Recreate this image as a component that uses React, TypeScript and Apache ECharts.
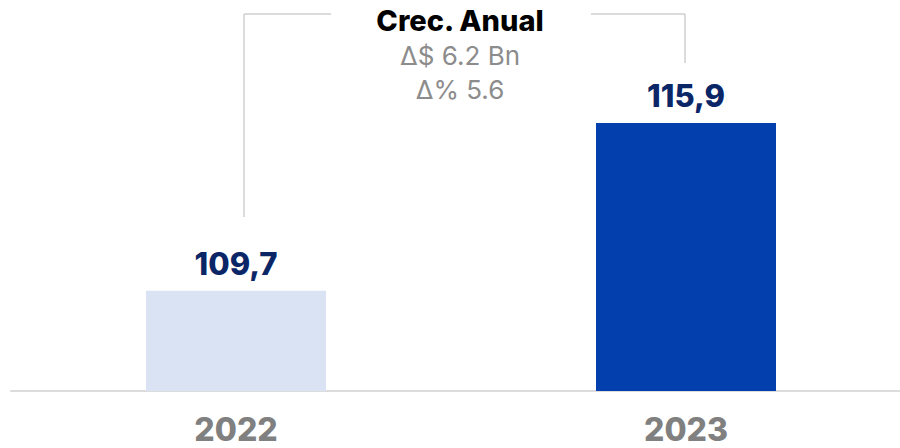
import React, { useEffect, useRef } from "react";
import * as echarts from "echarts";

const categories = ["2022", "2023"];
const values = [109.7, 115.9];
const valueLabels = ["109,7", "115,9"];
const barColors = ["#dae3f3", "#0340ad"];
const titleLines = ["Crec. Anual", "Δ$ 6.2 Bn", "Δ% 5.6"];

const FONT = "Inter, 'Noto Sans', sans-serif";

export default function App() {
  const ref = useRef<HTMLDivElement>(null);
  useEffect(() => {
    if (!ref.current) return;
    const chart = echarts.init(ref.current, undefined, { renderer: "svg" });
    const lineStyle = { stroke: "#cfcfcf", lineWidth: 1.5 };
    chart.setOption({
      animation: false,
      grid: { left: 11, right: 0, top: 12, bottom: 57 },
      xAxis: {
        type: "category",
        data: categories,
        axisLine: { lineStyle: { color: "#dcdcdc", width: 2 } },
        axisTick: { show: false },
        axisLabel: {
          color: "#808080",
          fontFamily: FONT,
          fontWeight: 800,
          fontSize: 32,
          margin: 22,
        },
      },
      yAxis: {
        type: "value",
        min: 106,
        max: 120,
        show: false,
        splitLine: { show: false },
      },
      series: [
        {
          type: "bar",
          barWidth: "40%",
          data: values.map((v, i) => ({
            value: v,
            itemStyle: { color: barColors[i] },
          })),
          label: {
            show: true,
            position: "top",
            distance: 12,
            color: "#0b2667",
            fontFamily: FONT,
            fontWeight: 800,
            fontSize: 31,
            formatter: (p: any) => valueLabels[p.dataIndex],
          },
        },
      ],
      graphic: [
        { type: "line", shape: { x1: 244, y1: 14, x2: 331, y2: 14 }, style: lineStyle },
        { type: "line", shape: { x1: 244, y1: 14, x2: 244, y2: 217 }, style: lineStyle },
        { type: "line", shape: { x1: 591, y1: 14, x2: 685, y2: 14 }, style: lineStyle },
        { type: "line", shape: { x1: 685, y1: 14, x2: 685, y2: 63 }, style: lineStyle },
        {
          type: "text",
          x: 460,
          y: 20,
          style: {
            text: titleLines[0],
            fill: "#000000",
            font: `800 29px ${FONT}`,
            textAlign: "center",
            textVerticalAlign: "middle",
          },
        },
        {
          type: "text",
          x: 460,
          y: 55,
          style: {
            text: titleLines[1],
            fill: "#8c8c8c",
            font: `26px ${FONT}`,
            textAlign: "center",
            textVerticalAlign: "middle",
          },
        },
        {
          type: "text",
          x: 460,
          y: 89,
          style: {
            text: titleLines[2],
            fill: "#8c8c8c",
            font: `26px ${FONT}`,
            textAlign: "center",
            textVerticalAlign: "middle",
          },
        },
      ],
    });
    return () => chart.dispose();
  }, []);
  return (
    <div
      style={{
        position: "fixed",
        left: 0,
        top: 0,
        width: 900,
        height: 448,
        overflow: "hidden",
        background: "#fff",
      }}
    >
      <div ref={ref} style={{ width: 911, height: 448 }} />
    </div>
  );
}
